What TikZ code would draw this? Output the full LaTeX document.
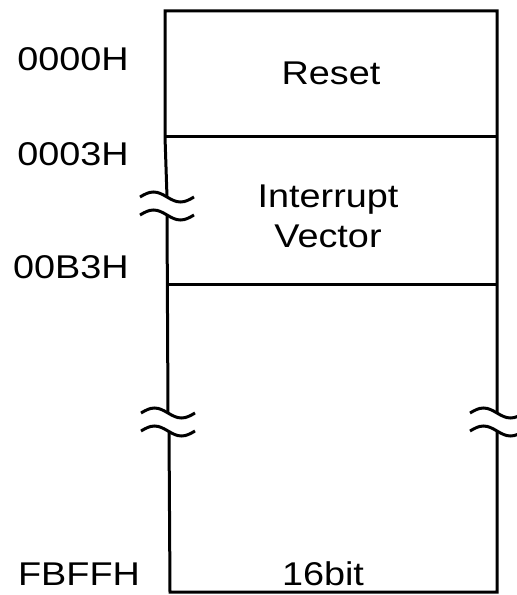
\documentclass[tikz,border=0pt]{standalone}
\usepackage{fontspec}
\setmainfont{Liberation Sans}[FakeStretch=1.15]
\begin{document}
\begin{tikzpicture}[
    x=1bp, y=-1bp,
    wall/.style={draw, line width=3bp},
    addr/.style={font=\fontsize{33}{40}\selectfont, anchor=base},
    field/.style={font=\fontsize{33}{40}\selectfont, anchor=base, align=center},
    brk/.pic={
        \draw[line width=3bp] (-27,0) sin (-13.5,-5) cos (0,0) sin (13.5,5) cos (27,0);
        \draw[line width=3bp] (-27,18) sin (-13.5,13) cos (0,18) sin (13.5,23) cos (27,18);
    }
]
    \useasboundingbox (0,0) rectangle (517,595);
    \clip (0,0) rectangle (517,595);

    % corners of the map
    \coordinate (tl) at (165,11);
    \coordinate (tr) at (497,11);
    \coordinate (d1l) at (165,137);
    \coordinate (d1r) at (497,137);
    \coordinate (d2l) at (168,284);
    \coordinate (d2r) at (497,284);
    \coordinate (bl) at (170,592);
    \coordinate (br) at (497,592);

    % ends at the breaks
    \coordinate (ivtop) at (167,197);
    \coordinate (ivbot) at (167,215);
    \coordinate (lftop) at (168,413);
    \coordinate (lfbot) at (169,431);
    \coordinate (rttop) at (497,413);
    \coordinate (rtbot) at (497,431);

    % outline
    \draw[wall] (ivtop) -- (d1l) -- (tl) -- (tr) -- (rttop);
    \draw[wall] (ivbot) -- (lftop);
    \draw[wall] (lfbot) -- (bl) -- (br) -- (rtbot);
    \draw[wall] (d1l) -- (d1r);
    \draw[wall] (d2l) -- (d2r);

    % breaks
    \pic at (ivtop) {brk};
    \pic at (lftop) {brk};
    \pic at (rttop) {brk};

    % addresses
    \node[addr] (a0000) at (73,71) {0000H};
    \node[addr] (a0003) at (73,166) {0003H};
    \node[addr] (a00b3) at (71,278) {00B3H};
    \node[addr] (afbff) at (79,585) {FBFFH};

    % fields
    \node[field] (reset) at (331,85) {Reset};
    \node[field] (intvec) at (328,247) {Interrupt\\Vector};
    \node[field] (width) at (323,585) {16bit};
\end{tikzpicture}
\end{document}
